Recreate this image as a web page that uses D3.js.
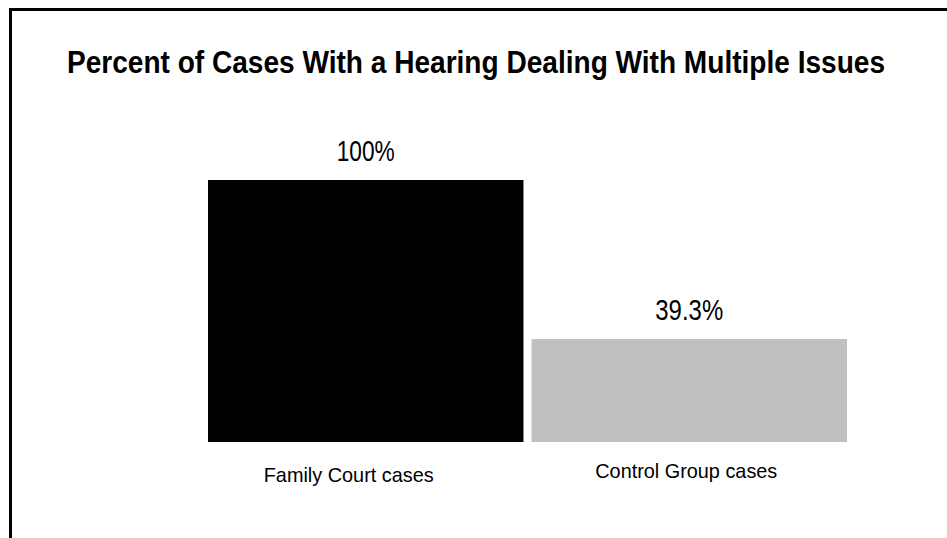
<!DOCTYPE html>
<html>
<head>
<meta charset="utf-8">
<title>Percent of Cases With a Hearing Dealing With Multiple Issues</title>
<script src="https://d3js.org/d3.v7.min.js"></script>
<style>
  body { margin: 0; background: #fff; }
  text { font-family: "Liberation Sans", Arial, sans-serif; fill: #000; }
</style>
</head>
<body>
<div id="container"></div>
<script>
var categories = ["Family Court cases", "Control Group cases"];
var values = [100, 39.3];
var valueLabels = ["100%", "39.3%"];
var colors = ["#000000", "#c0c0c0"];

var width = 947, height = 538;

var svg = d3.select("#container").append("svg")
    .attr("width", width).attr("height", height);

// frame: top and left edges only
svg.append("path")
    .attr("d", "M10.5,538 L10.5,9.5 L947,9.5")
    .attr("fill", "none")
    .attr("stroke", "#000")
    .attr("stroke-width", 3);

svg.append("text")
    .attr("x", 476).attr("y", 73)
    .attr("text-anchor", "middle")
    .attr("font-size", 32).attr("font-weight", "bold")
    .attr("textLength", 818).attr("lengthAdjust", "spacingAndGlyphs")
    .text("Percent of Cases With a Hearing Dealing With Multiple Issues");

var x = d3.scaleBand()
    .domain(categories)
    .range([208, 847])
    .paddingInner(0.025)
    .paddingOuter(0);

var y = d3.scaleLinear()
    .domain([0, 100])
    .range([442, 180]);

svg.selectAll("rect.bar")
    .data(categories)
    .enter().append("rect")
    .attr("class", "bar")
    .attr("x", function(d) { return x(d); })
    .attr("width", x.bandwidth())
    .attr("y", function(d, i) { return y(values[i]); })
    .attr("height", function(d, i) { return y(0) - y(values[i]); })
    .attr("fill", function(d, i) { return colors[i]; });

// value labels
svg.selectAll("text.val")
    .data(categories)
    .enter().append("text")
    .attr("class", "val")
    .attr("x", function(d) { return x(d) + x.bandwidth() / 2; })
    .attr("y", function(d, i) { return y(values[i]) - 19; })
    .attr("text-anchor", "middle")
    .attr("font-size", 30)
    .attr("textLength", function(d, i) { return i === 0 ? 58 : 68; })
    .attr("lengthAdjust", "spacingAndGlyphs")
    .text(function(d, i) { return valueLabels[i]; });

// category labels (slightly off-centre in the original)
var labelShift = [-17, -3];
var labelDrop = [482, 478];
svg.selectAll("text.cat")
    .data(categories)
    .enter().append("text")
    .attr("class", "cat")
    .attr("x", function(d, i) { return x(d) + x.bandwidth() / 2 + labelShift[i]; })
    .attr("y", function(d, i) { return labelDrop[i]; })
    .attr("text-anchor", "middle")
    .attr("font-size", 21)
    .attr("textLength", function(d, i) { return i === 0 ? 170 : 182; })
    .attr("lengthAdjust", "spacingAndGlyphs")
    .text(function(d) { return d; });
</script>
</body>
</html>
